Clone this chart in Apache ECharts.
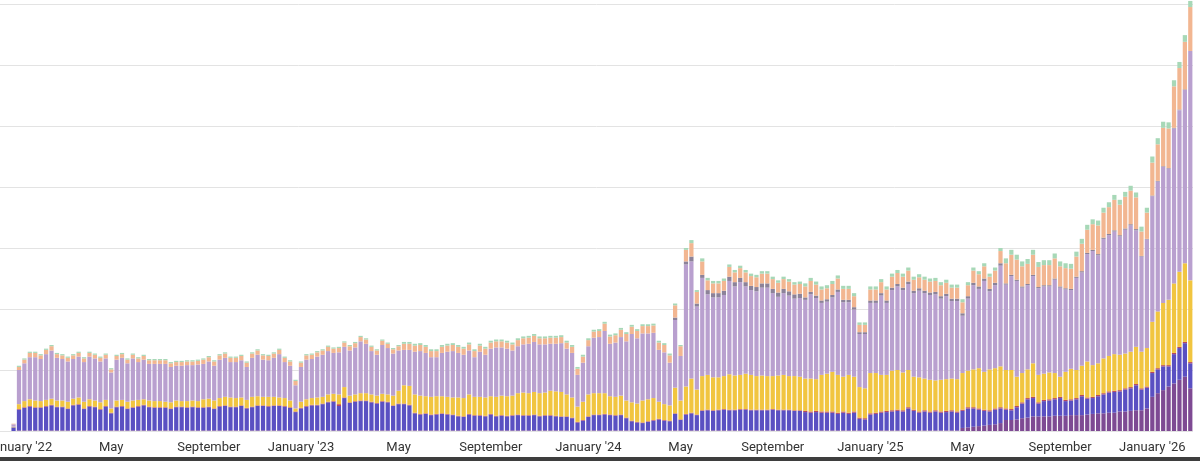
<!DOCTYPE html>
<html>
<head>
<meta charset="utf-8">
<script src="https://cdn.jsdelivr.net/npm/echarts/dist/echarts.min.js"></script>
<style>
html,body{margin:0;padding:0;background:#fff;}
#chart{width:1200px;height:457px;border-bottom:4px solid #3e3e3e;}
</style>
</head>
<body>
<div id="chart"></div>
<script>
// Weekly categories (week starting Sunday). Two empty weeks precede the data start (Jan 1 2022).
const firstWeekUTC = Date.UTC(2021, 11, 12);
const weekCount = 220;
const emptyLeadWeeks = 2;
const weeks = [];
for (let i = 0; i < weekCount; i++) {
  weeks.push(new Date(firstWeekUTC + i * 7 * 86400000).toISOString().slice(0, 10));
}

// Tick labels and the weeks they sit on
const labelWeeks = ['2022-01-02','2022-05-01','2022-09-04','2023-01-01','2023-05-07','2023-09-03',
  '2024-01-07','2024-05-05','2024-09-01','2025-01-05','2025-05-04','2025-09-07','2026-01-04'];
const tickLabels = ["January '22","May","September","January '23","May","September",
  "January '24","May","September","January '25","May","September","January '26"];

// Series values (bottom to top of the stack), one per week from 2021-12-26
const plum = [
 0, 1,1,1,1,1,1,1,1,1,1, 1,1,1,1,1,1,1,1,1,1, 1,1,1,1,1,1,1,1,1,1, 1,1,1,1,
 1,1,1,1,1,1,1,1,1,1, 1,1,1,1,1,1,1,1,1,1, 1,1,1,1,1,1,1,1,1,1, 1,1,1,1,1,1,1,
 1,1,1,1,1,1,1,1,1,1, 1,1,1,1,1,1,1,1,1,1, 1,1,1,1,1,1,1,1,1,1, 1,1,1,1,1,1,1,
 1,1,1,1,1,1,1,1,1,1, 1,1,1,1,1,1,1,1,1,1, 1,1,1,1,1,1,1,1,1,1, 1,1,1,1,1,1,1,
 1,1,1,1,1,1,1,1,1,1, 1,1,1,1,1,1,1,1,1,1, 1,1,1,1,1,1,1,1,1, 5,6,7,8,9,10,11,13,
 18,18,19,21,22,24,24,24,24,25, 25,25,26,26,26,27,28,29,29,30, 30,32,32,33,34,34,37,56,62,67, 73,78,84,89,70
];
const indigo = [
 6, 34,37,39,37,37,39,41,38,38,35, 41,42,35,39,38,34,39,28,38,39, 35,37,39,41,38,37,37,37,35,38, 38,37,38,37,
 37,38,35,39,40,38,38,40,36,38, 40,40,39,40,40,39,37,30,36,39, 41,41,43,46,47,40,53,45,47,48, 48,46,44,47,46,40,43,
 43,41,28,26,27,25,26,27,26,25, 23,22,26,24,24,23,26,23,24,23, 24,25,24,24,25,23,24,24,23,22, 22,20,13,16,22,25,25,
 26,25,24,25,20,15,13,12,14,16, 18,16,15,27,17,26,28,25,32,33, 32,33,34,33,33,34,34,33,33,33, 33,34,33,33,33,32,32,
 30,29,30,29,29,29,27,29,27,29, 19,18,26,27,29,30,31,32,31,36, 32,29,31,29,31,29,30,31,29,28, 31,30,27,24,22,24,24,
 17,16,20,24,30,30,21,25,26,27, 29,24,24,26,31,26,26,28,31,33, 34,33,36,37,41,34,34,39,39,39, 33,48,52,55,41
];
const crimson = [
 0, 1,1,1,1,1,1,1,1,1,1, 1,1,1,1,1,1,1,1,1,1, 1,1,1,1,1,1,1,1,1,1, 1,1,1,1,
 1,1,1,1,1,1,1,1,1,1, 1,1,1,1,1,1,1,1,1,1, 1,1,1,1,1,3,1,1,1,1, 1,1,1,1,1,1,1,
 1,1,1,1,1,1,1,1,1,1, 1,1,1,1,1,1,1,1,1,1, 1,1,1,1,1,1,1,1,1,1, 1,1,1,1,1,1,1,
 1,1,1,1,1,1,1,1,1,1, 1,1,1,1,1,1,1,1,1,1, 1,1,1,1,1,1,1,1,1,1, 1,1,1,1,1,1,1,
 2,2,2,2,2,2,2,2,2,2, 2,2,2,2,2,2,2,2,2,2, 2,2,2,2,2,2,2,2,2,2, 2,2,2,2,2,2,2,
 2,2,2,2,2,2,2,2,2,2, 2,2,2,2,2,2,2,2,2,2, 2,2,2,2,2,2,2,2,2,2, 2,2,2,2,2
];
const amber = [
 1, 8,10,11,11,10,10,10,10,10,11, 10,11,11,11,10,11,10,7,10,10, 11,11,10,9,10,10,10,9,10,10, 9,10,10,10,
 13,13,13,13,14,15,14,13,13,16, 15,14,15,14,13,13,11,5,10,11, 11,12,11,12,12,16,17,11,11,12, 12,12,12,12,12,16,21,
 30,31,30,30,28,29,29,28,28,28, 30,30,32,30,30,30,29,31,32,32, 32,35,37,36,37,37,37,40,40,40, 36,33,25,30,36,35,35,
 34,30,30,31,28,30,30,36,36,36, 28,26,25,42,31,45,56,41,56,57, 54,53,54,58,56,56,58,57,55,56, 55,54,56,57,55,56,55,
 53,54,52,60,62,65,62,57,62,57, 50,49,66,65,60,59,65,65,62,61, 54,56,52,52,49,52,52,52,53,60, 60,62,66,62,67,66,67,
 63,64,48,48,47,55,45,43,44,41, 33,46,50,46,48,59,52,52,57,58, 60,58,57,58,61,60,63,82,93,102, 107,114,123,129,134
];
const lavender = [
 4, 56,62,69,71,69,75,79,70,68,66, 65,67,65,70,69,67,68,59,67,69, 63,69,62,65,60,61,61,62,58,57, 58,59,58,60,
 58,61,57,63,64,58,59,61,54,64, 68,61,60,64,71,59,57,38,57,65, 64,67,69,71,67,69,66,74,77,85, 81,71,67,80,76,69,66,
 58,59,70,73,71,65,64,71,74,76, 73,71,72,65,74,70,78,81,79,78, 74,77,79,81,82,80,79,77,78,80, 75,73,52,64,79,91,92,
 102,86,89,96,97,112,107,110,108,107, 85,85,70,111,73,200,192,136,161,132, 131,131,133,153,146,152,143,139,139,144, 145,136,129,134,132,127,129,
 129,138,133,118,118,122,136,122,119,110, 87,89,115,115,130,118,132,137,135,141, 137,142,140,139,141,133,136,127,128,94, 118,138,130,149,128,136,165,
 140,154,157,140,138,143,142,143,141,153, 146,135,129,151,153,176,187,177,196,198, 201,194,203,207,191,156,178,206,213,223, 215,254,265,284,376
];
const slate = [
 0, 0,0,0,0,0,0,0,0,0,0, 0,0,0,0,0,0,0,0,0,0, 0,0,0,0,0,0,0,0,0,0, 0,0,0,0,
 0,0,0,0,0,0,0,0,0,0, 0,0,0,0,0,0,0,0,0,0, 0,0,0,0,0,0,0,0,0,0, 0,0,0,0,0,0,0,
 0,0,0,0,0,0,0,0,0,0, 0,0,0,0,0,0,0,0,0,0, 0,0,0,0,0,0,0,0,0,0, 0,0,0,0,0,0,0,
 0,0,0,0,0,0,0,0,0,0, 0,0,0,4,0,5,8,5,5,7, 7,7,7,7,7,7,7,7,7,7, 7,7,7,7,7,7,7,
 4,4,4,4,4,4,4,4,4,4, 3,3,4,4,4,4,4,4,4,4, 4,4,4,4,4,4,4,4,4,4, 4,4,4,4,4,4,4,
 2,2,2,2,2,2,2,2,2,2, 2,2,2,2,2,2,2,2,2,2, 2,2,2,2,2,1,1,1,1,1, 1,1,1,1,0
];
const peach = [
 1, 5,6,7,7,6,7,7,6,6,6, 6,6,6,6,6,6,6,5,6,6, 6,6,6,6,6,6,6,6,6,6, 6,6,6,6,
 7,7,7,7,7,7,7,7,7,7, 7,7,7,7,7,7,7,7,7,7, 7,7,7,7,7,7,7,7,7,7, 7,7,7,7,7,7,7,
 10,10,10,10,10,10,10,10,10,10, 10,10,10,10,10,10,10,10,10,10, 10,10,10,10,10,10,10,10,10,10, 10,10,10,10,10,10,10,
 12,12,12,12,12,12,12,12,12,12, 12,12,12,20,16,19,22,19,22,16, 16,16,16,16,16,16,16,16,16,16, 16,16,16,16,16,16,16,
 18,18,18,18,18,18,18,18,18,18, 12,12,18,18,18,18,18,18,18,18, 18,18,18,18,18,18,18,18,18,18, 18,20,20,20,20,20,20,
 33,33,33,33,33,33,33,33,33,33, 33,33,33,33,45,38,42,47,41,44, 50,50,52,55,52,40,43,54,60,63, 65,68,68,78,72
];
const mint = [
 0, 2,2,2,2,2,2,2,2,2,2, 2,2,2,2,2,2,2,2,2,2, 2,2,2,2,2,2,2,2,2,2, 2,2,2,2,
 2,2,2,2,2,2,2,2,2,2, 2,2,2,2,2,2,2,2,2,2, 2,2,2,2,2,2,2,2,2,2, 2,2,2,2,2,2,2,
 3,3,3,3,3,3,3,3,3,3, 3,3,3,3,3,3,3,3,3,3, 3,3,3,3,3,3,3,3,3,3, 3,3,3,3,3,3,3,
 3,3,3,3,3,3,3,3,3,3, 3,3,3,3,2,3,5,3,5,4, 4,4,4,4,4,4,4,4,4,4, 4,4,4,4,4,4,4,
 5,5,5,5,5,5,5,5,5,5, 4,4,5,5,5,5,5,5,5,5, 5,5,5,5,5,5,5,5,5,5, 5,5,5,5,5,5,5,
 8,8,8,8,8,8,8,8,8,8, 8,8,8,8,8,8,8,8,8,8, 8,8,8,8,8,8,8,10,10,10, 10,10,10,11,10
];

const layers = [
  {name: 'Plum', data: plum, color: '#7e4a93'},
  {name: 'Indigo', data: indigo, color: '#5a50c2'},
  {name: 'Crimson', data: crimson, color: '#b5475f'},
  {name: 'Amber', data: amber, color: '#f1c540'},
  {name: 'Lavender', data: lavender, color: '#b9a0cf'},
  {name: 'Slate', data: slate, color: '#8c8299'},
  {name: 'Peach', data: peach, color: '#f2b691'},
  {name: 'Mint', data: mint, color: '#a7d8b7'}
];
layers.forEach(l => {
  if (l.data.length !== weekCount - emptyLeadWeeks) throw new Error(l.name + ' length ' + l.data.length);
});
const lead = new Array(emptyLeadWeeks).fill(null);

const chart = echarts.init(document.getElementById('chart'), null, {renderer: 'canvas'});
chart.setOption({
  animation: false,
  grid: {left: 0, right: 7, top: 4, bottom: 26, outerBoundsMode: 'none'},
  xAxis: {
    type: 'category',
    data: weeks,
    axisLine: {show: false},
    axisTick: {show: false},
    axisLabel: {
      interval: (idx, val) => labelWeeks.indexOf(val) >= 0,
      formatter: val => { const k = labelWeeks.indexOf(val); return k >= 0 ? tickLabels[k] : ''; },
      color: '#333333',
      fontSize: 13,
      fontFamily: 'Roboto',
      margin: 10
    },
    splitLine: {show: false}
  },
  yAxis: {
    type: 'value',
    min: 0, max: 700, interval: 100,
    axisLabel: {show: false},
    axisLine: {show: false},
    axisTick: {show: false},
    splitLine: {lineStyle: {color: '#e3e3e3', width: 1}}
  },
  series: layers.map(l => ({
    name: l.name,
    type: 'bar',
    stack: 'total',
    data: lead.concat(l.data),
    itemStyle: {color: l.color},
    barCategoryGap: '22%',
    clip: false,
    emphasis: {disabled: true}
  }))
});
</script>
</body>
</html>
